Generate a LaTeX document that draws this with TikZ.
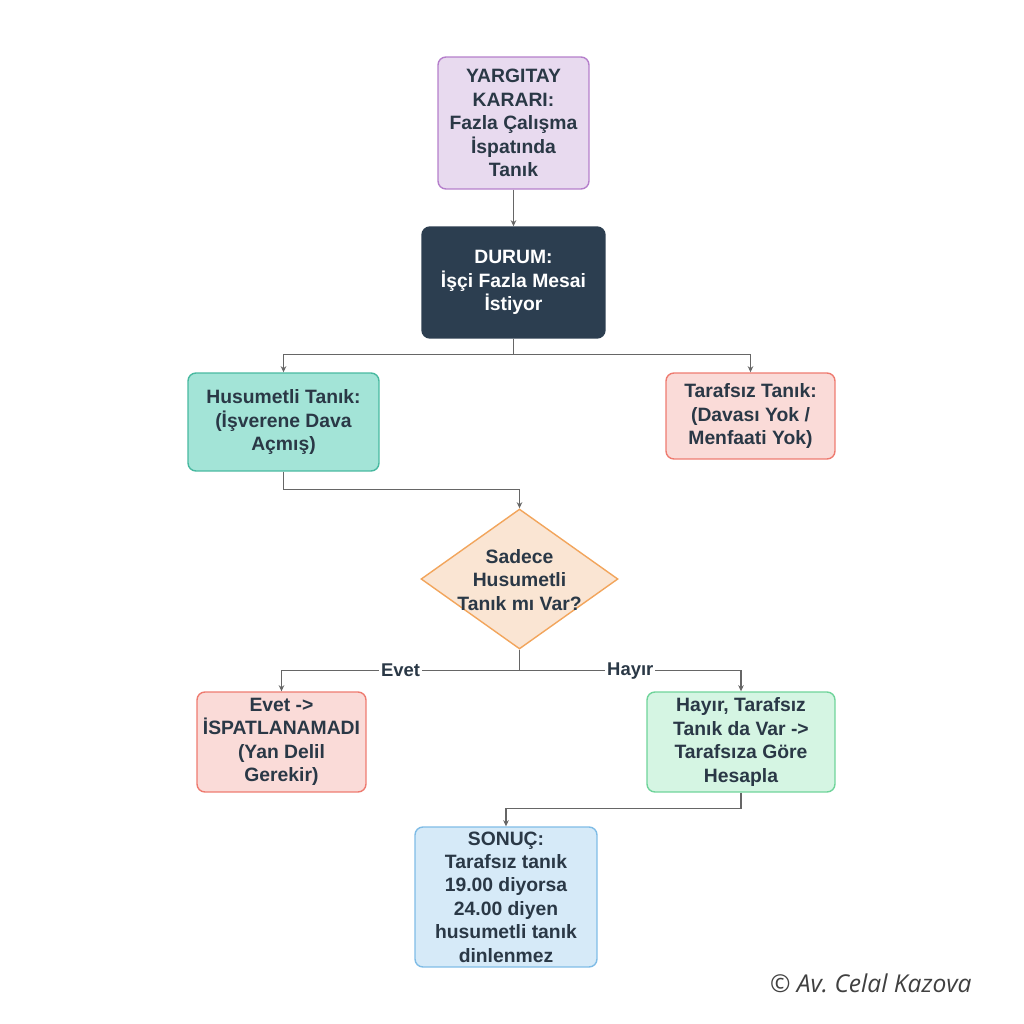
\documentclass[tikz,border=0pt]{standalone}
\usepackage{fontspec}
\setmainfont{Liberation Sans}
\newfontfamily\signfont{Open Sans}
\usepackage{xcolor}
\usetikzlibrary{shapes.geometric,arrows.meta}

\definecolor{txt}{HTML}{2A3846}
\definecolor{lne}{HTML}{666666}
\definecolor{purpfill}{HTML}{E8DAEF}
\definecolor{purpline}{HTML}{B57FCB}
\definecolor{navy}{HTML}{2C3E50}
\definecolor{tealfill}{HTML}{A3E4D7}
\definecolor{tealline}{HTML}{48B9A0}
\definecolor{pinkfill}{HTML}{FADBD8}
\definecolor{pinkline}{HTML}{EE7B70}
\definecolor{peachfill}{HTML}{FAE5D3}
\definecolor{peachline}{HTML}{F2A55C}
\definecolor{mintfill}{HTML}{D5F5E3}
\definecolor{mintline}{HTML}{6FD49A}
\definecolor{skyfill}{HTML}{D6EAF8}
\definecolor{skyline}{HTML}{7FBCE6}

\begin{document}
\begin{tikzpicture}[x=0.02cm,y=-0.02cm,
      box/.style={rounded corners=4.5pt,line width=0.8pt,align=center,inner sep=0pt,
        font=\bfseries\fontsize{11}{13.3}\selectfont,text=txt},
      dia/.style={diamond,draw=peachline,fill=peachfill,line width=0.8pt,inner sep=0pt,
        minimum width=3.94cm,minimum height=2.8cm},
      lbl/.style={fill=white,inner sep=1pt,text=txt,font=\bfseries\fontsize{10.5}{12}\selectfont},
      ln/.style={draw=lne,line width=0.7pt,-{Stealth[length=3.5pt,width=3.2pt]}}]
    \useasboundingbox (0,0) rectangle (1024,1024);

    % boxes
    \node[box,draw=purpline,fill=purpfill,minimum width=3.02cm,minimum height=2.64cm]
      (karar) at (513.5,123) {YARGITAY\\KARARI:\\Fazla Çalışma\\İspatında\\Tanık};
    \node[box,draw=navy,fill=navy,text=white,minimum width=3.66cm,minimum height=2.22cm]
      (durum) at (513.5,282.5) {DURUM:\\İşçi Fazla Mesai\\İstiyor};
    \node[box,draw=tealline,fill=tealfill,minimum width=3.82cm,minimum height=1.96cm]
      (husu) at (283.5,422) {Husumetli Tanık:\\(İşverene Dava\\Açmış)};
    \node[box,draw=pinkline,fill=pinkfill,minimum width=3.38cm,minimum height=1.72cm]
      (taraf) at (750.5,416) {Tarafsız Tanık:\\(Davası Yok /\\Menfaati Yok)};
    \node[dia] (soru) at (519.5,579) {};
    \node[box] (sorutxt) at (519.5,580) {Sadece\\Husumetli\\Tanık mı Var?};
    \node[box,draw=pinkline,fill=pinkfill,minimum width=3.38cm,minimum height=2.0cm]
      (evet) at (281.5,742) {Evet ->\\İSPATLANAMADI\\(Yan Delil\\Gerekir)};
    \node[box,draw=mintline,fill=mintfill,minimum width=3.76cm,minimum height=2.0cm]
      (hayir) at (741,742) {Hayır, Tarafsız\\Tanık da Var ->\\Tarafsıza Göre\\Hesapla};
    \node[box,draw=skyline,fill=skyfill,minimum width=3.64cm,minimum height=2.8cm]
      (sonuc) at (506,897) {SONUÇ:\\Tarafsız tanık\\19.00 diyorsa\\24.00 diyen\\husumetli tanık\\dinlenmez};

    % connectors
    \draw[ln] (karar) -- (durum);
    \draw[ln] (durum.south) -- ++(0,16) -| (husu.north);
    \draw[ln] (durum.south) -- ++(0,16) -| (taraf.north);
    \draw[ln] (husu.south) -- ++(0,18) -| (soru.north);
    \draw[ln] (soru.south) -- ++(0,21) -| node[lbl,pos=0.25] {Evet} (evet.north);
    \draw[ln] (soru.south) -- ++(0,21) -| node[lbl,pos=0.25] {Hayır} (hayir.north);
    \draw[ln] (hayir.south) -- ++(0,16) -| (sonuc.north);

    \node[anchor=east,inner sep=0pt,text=black!75,font=\signfont\itshape\fontsize{14}{16}\selectfont]
      (imza) at (972,983) {© Av.\ Celal Kazova};
  \end{tikzpicture}
\end{document}
